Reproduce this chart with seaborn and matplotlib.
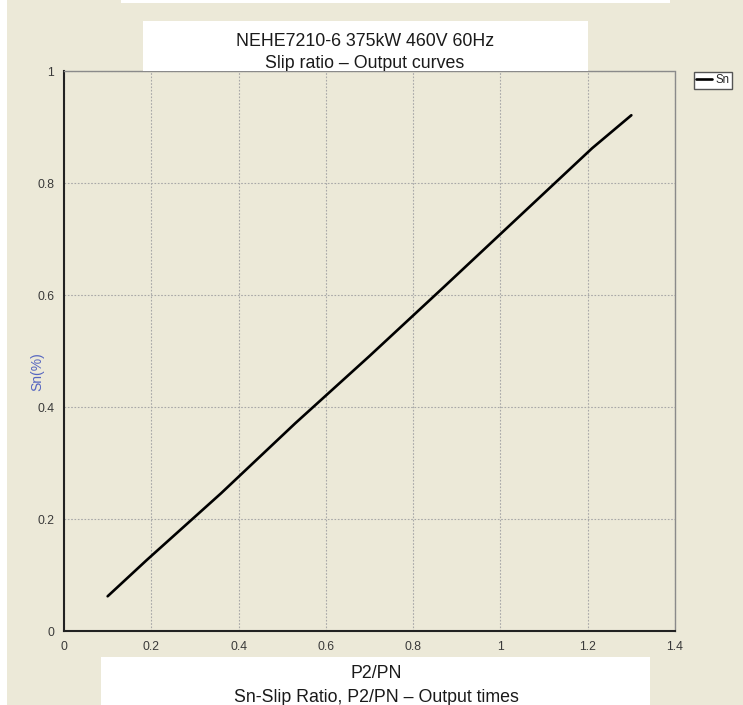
import matplotlib
matplotlib.use("Agg")
import matplotlib.pyplot as plt
import seaborn as sns
import pandas as pd
from matplotlib.patches import Rectangle
from matplotlib.transforms import Bbox, TransformedBbox

# Slip ratio vs. output ratio
p2_pn = [0.10, 0.19, 0.36, 0.53, 0.70, 0.87, 1.04, 1.21, 1.30]
sn = [0.062, 0.127, 0.246, 0.371, 0.491, 0.614, 0.738, 0.862, 0.921]

x_ticks = [0, 0.2, 0.4, 0.6, 0.8, 1, 1.2, 1.4]
x_tick_labels = ["0", "0.2", "0.4", "0.6", "0.8", "1", "1.2", "1.4"]
y_ticks = [0, 0.2, 0.4, 0.6, 0.8, 1]
y_tick_labels = ["0", "0.2", "0.4", "0.6", "0.8", "1"]

title_lines = ["NEHE7210-6 375kW 460V 60Hz", "Slip ratio \u2013 Output curves"]
xlabel_lines = ["P2/PN", "Sn-Slip Ratio, P2/PN \u2013 Output times"]
ylabel = "Sn(%)"

BG = "#ECE9D8"
W, H = 743, 705

sns.set_style("white")
plt.rcParams["font.family"] = ["Liberation Sans", "DejaVu Sans"]

fig = plt.figure(figsize=(W / 100, H / 100), dpi=100)
fig.patch.set_facecolor(BG)

def px_rect(x0, y0, x1, y1, **kw):
    return Rectangle((x0 / W, 1 - y1 / H), (x1 - x0) / W, (y1 - y0) / H,
                     transform=fig.transFigure, **kw)

# thin white margins along the edges of the window
fig.patches.append(px_rect(0, 0, 7, H, facecolor="white", edgecolor="none", zorder=0))
fig.patches.append(px_rect(121, 0, 670, 3, facecolor="white", edgecolor="none", zorder=0))

ax = fig.add_axes([64 / W, 1 - 631 / H, (675 - 64) / W, (631 - 71) / H])
ax.set_facecolor(BG)

df = pd.DataFrame({"P2/PN": p2_pn, "Sn": sn})
sns.lineplot(data=df, x="P2/PN", y="Sn", ax=ax, color="black", linewidth=1.9,
             label="Sn", zorder=3)

ax.set_xlim(0, 1.4)
ax.set_ylim(0, 1)
ax.set_xticks(x_ticks)
ax.set_xticklabels(x_tick_labels)
ax.set_yticks(y_ticks)
ax.set_yticklabels(y_tick_labels)
ax.tick_params(axis="both", labelsize=8.8, labelcolor="#3a3a3a", length=4,
               width=0.8, direction="out", pad=3, color="#b0b0b0")
ax.grid(True, color="#a8a8a8", linestyle=(0, (1.5, 1.5)), linewidth=0.8)
ax.set_axisbelow(True)

for side in ["left", "bottom"]:
    ax.spines[side].set_color("#222222")
    ax.spines[side].set_linewidth(1.5)
    ax.spines[side].set_visible(True)
for side in ["top", "right"]:
    ax.spines[side].set_color("#8a8a8a")
    ax.spines[side].set_linestyle((0, (1.5, 1)))
    ax.spines[side].set_linewidth(1.0)
    ax.spines[side].set_visible(True)

ax.set_xlabel("")
ax.set_ylabel("")
fig.text(37 / W, 1 - 372 / H, ylabel, rotation=90, ha="center", va="center",
         fontsize=10, color="#5565c0")

# legend box on the right
leg = ax.legend(loc="upper left", bbox_to_anchor=(694 / W, 1 - 72 / H),
                bbox_transform=fig.transFigure, fontsize=8.3, handlelength=1.4,
                handletextpad=0.3, borderpad=0.2, borderaxespad=0,
                frameon=True, fancybox=False, framealpha=1)
leg.get_frame().set_edgecolor("#555555")
leg.get_frame().set_linewidth(1.0)
for line in leg.get_lines():
    line.set_linewidth(1.9)

# title panel; the second line is cut by the panel's lower edge
title_box = px_rect(143, 21, 588, 71, facecolor="white", edgecolor="none", zorder=5)
fig.patches.append(title_box)
clip = TransformedBbox(Bbox([[143 / W, 1 - 71 / H], [588 / W, 1 - 21 / H]]),
                       fig.transFigure)
for txt, ypx in zip(title_lines, [42, 64]):
    t = fig.text(365 / W, 1 - ypx / H, txt, ha="center", va="center",
                 fontsize=12.8, color="#1a1a1a", zorder=6)
    t.set_clip_box(clip)
    t.set_clip_on(True)

# x-axis caption panel
fig.patches.append(px_rect(101, 657, 650, 705, facecolor="white", edgecolor="none", zorder=5))
for txt, ypx in zip(xlabel_lines, [674, 697]):
    fig.text(376 / W, 1 - ypx / H, txt, ha="center", va="center",
             fontsize=12.8, color="#1a1a1a", zorder=6)

fig.savefig("out.png", dpi=100, facecolor=fig.get_facecolor())
